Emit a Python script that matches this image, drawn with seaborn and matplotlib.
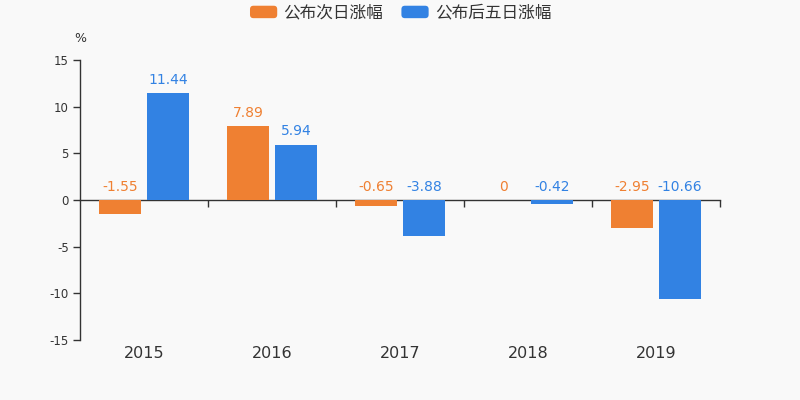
import matplotlib
matplotlib.use("Agg")
import matplotlib.pyplot as plt
import seaborn as sns
import pandas as pd
from matplotlib.patches import FancyBboxPatch
from matplotlib.legend_handler import HandlerPatch

years = ["2015", "2016", "2017", "2018", "2019"]
next_day = [-1.55, 7.89, -0.65, 0, -2.95]
five_day = [11.44, 5.94, -3.88, -0.42, -10.66]
series_names = ["公布次日涨幅", "公布后五日涨幅"]
colors = ["#ef8032", "#3282e3"]

df = pd.DataFrame({
    "year": years * 2,
    "value": next_day + five_day,
    "series": [series_names[0]] * len(years) + [series_names[1]] * len(years),
})

sns.set_theme(style="white")
plt.rcParams["font.family"] = ["DejaVu Sans", "Noto Sans CJK SC"]
bg = "#f9f9f9"
fig = plt.figure(figsize=(8, 4), dpi=100, facecolor=bg)
ax = fig.add_axes([0.1, 0.15, 0.8, 0.7])
ax.set_facecolor(bg)

sns.barplot(data=df, x="year", y="value", hue="series", order=years,
            hue_order=series_names, palette=colors, width=0.75, gap=0.125,
            saturation=1, ax=ax, legend=False, edgecolor="none")

ax.set_xlim(-0.5, len(years) - 0.5)
ax.set_ylim(-15, 15)
ax.set_yticks([-15, -10, -5, 0, 5, 10, 15])
ax.set_yticklabels(["-15", "-10", "-5", "0", "5", "10", "15"])
ax.tick_params(axis="y", length=5, width=1, color="#333333", labelsize=8.5,
               labelcolor="#333333", pad=3, left=True, direction="out")
ax.set_xlabel("")
ax.set_ylabel("")
for s in ["top", "right", "bottom"]:
    ax.spines[s].set_visible(False)
ax.spines["left"].set_color("#333333")
ax.spines["left"].set_linewidth(1)

ax.set_xticks(range(len(years)))
ax.set_xticklabels(years)
ax.tick_params(axis="x", length=0, labelsize=11.5, labelcolor="#333333", pad=4.5)

sec = ax.secondary_xaxis(0.5)
sec.set_xticks([i + 0.5 for i in range(len(years))])
sec.set_xticklabels([])
sec.tick_params(axis="x", length=5, width=1, color="#333333", direction="in")
for sp in sec.spines.values():
    sp.set_color("#333333")
    sp.set_linewidth(1)

for cont, col in zip(ax.containers, colors):
    for patch, v in zip(cont.patches, cont.datavalues):
        xc = patch.get_x() + patch.get_width() / 2
        y = max(v, 0)
        txt = f"{v:g}"
        ax.annotate(txt, (xc, y), xytext=(0, 9.5), textcoords="offset points",
                    ha="center", va="center", fontsize=10, color=col)

ax.text(0.0, 1.075, "%", transform=ax.transAxes, ha="center", va="center",
        fontsize=9, color="#333333")


class RoundHandler(HandlerPatch):
    def create_artists(self, legend, orig_handle, xdescent, ydescent, width,
                       height, fontsize, trans):
        p = FancyBboxPatch((-xdescent + 1, -ydescent + 0.5), width - 2, height - 1,
                           boxstyle="round,pad=0,rounding_size=2.5",
                           facecolor=orig_handle.get_facecolor(),
                           edgecolor="none", transform=trans)
        return [p]


handles = [plt.Rectangle((0, 0), 1, 1, facecolor=c) for c in colors]
leg = fig.legend(handles, series_names, loc="center", bbox_to_anchor=(0.5, 0.967),
                 ncol=2, frameon=False, handlelength=1.8,
                 handleheight=0.9, handletextpad=0.3, columnspacing=1.0,
                 prop={"family": ["Noto Sans CJK SC", "DejaVu Sans"], "size": 12},
                 handler_map={plt.Rectangle: RoundHandler()})
for t in leg.get_texts():
    t.set_color("#333333")

fig.savefig("out.png", dpi=100, facecolor=bg)
